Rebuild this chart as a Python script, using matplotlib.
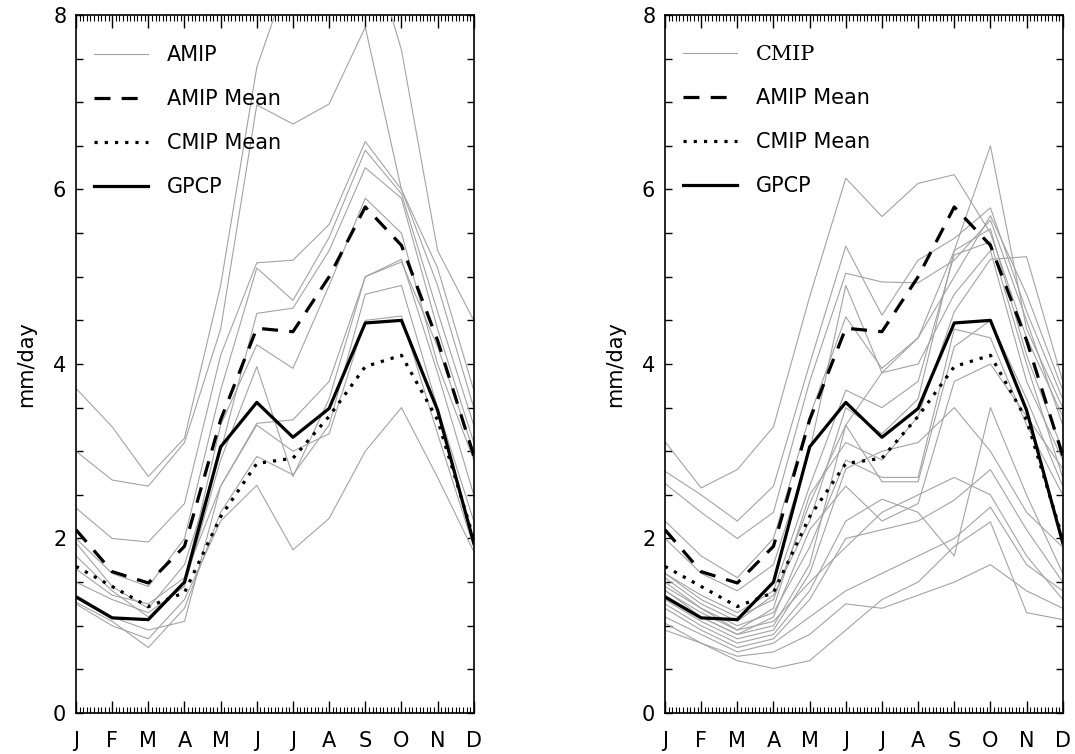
import matplotlib
matplotlib.use("Agg")
import matplotlib.pyplot as plt
from matplotlib.lines import Line2D
from matplotlib.ticker import MultipleLocator

months = ['J', 'F', 'M', 'A', 'M', 'J', 'J', 'A', 'S', 'O', 'N', 'D']

# observed and ensemble means (mm/day)
gpcp      = [1.33, 1.09, 1.07, 1.50, 3.05, 3.56, 3.16, 3.49, 4.47, 4.50, 3.47, 1.95]
amip_mean = [2.10, 1.62, 1.49, 1.91, 3.36, 4.41, 4.37, 5.00, 5.80, 5.36, 4.27, 2.95]
cmip_mean = [1.68, 1.45, 1.22, 1.38, 2.25, 2.86, 2.92, 3.40, 3.97, 4.10, 3.36, 2.00]

# individual AMIP models
amip_models = [
    [3.72, 3.28, 2.71, 3.15, 4.90, 7.40, 8.60, 9.00, 9.00, 7.60, 5.30, 4.50],
    [3.00, 2.67, 2.60, 3.10, 4.40, 6.97, 6.75, 6.98, 7.86, 6.00, 5.10, 3.70],
    [2.35, 2.00, 1.96, 2.40, 4.10, 5.16, 5.19, 5.60, 6.55, 6.00, 4.90, 3.50],
    [2.00, 1.60, 1.45, 2.00, 3.70, 5.10, 4.73, 5.45, 6.45, 5.95, 4.60, 3.30],
    [1.95, 1.45, 1.20, 1.70, 3.00, 4.58, 4.64, 5.30, 6.25, 5.90, 4.40, 3.10],
    [1.80, 1.40, 1.10, 1.50, 3.30, 4.22, 3.95, 4.90, 5.90, 5.50, 4.00, 2.90],
    [1.50, 1.30, 1.15, 1.45, 2.90, 3.97, 2.71, 3.60, 5.00, 5.20, 3.90, 2.50],
    [1.65, 1.35, 1.25, 1.55, 2.60, 3.32, 3.36, 3.80, 5.00, 5.17, 4.20, 3.00],
    [1.27, 1.05, 0.75, 1.20, 2.30, 2.94, 2.73, 3.30, 4.80, 4.90, 3.50, 2.20],
    [1.25, 1.00, 0.85, 1.30, 2.20, 2.61, 1.87, 2.23, 3.00, 3.50, 2.70, 1.85],
    [1.35, 1.10, 0.95, 1.05, 2.60, 3.30, 3.00, 3.20, 4.50, 4.55, 3.20, 1.90],
]

# individual CMIP models
cmip_models = [
    [3.11, 2.58, 2.79, 3.28, 4.77, 6.13, 5.69, 6.07, 6.17, 5.50, 4.30, 3.40],
    [2.77, 2.50, 2.20, 2.60, 4.00, 5.35, 4.56, 5.19, 5.44, 5.79, 4.60, 3.60],
    [2.63, 2.30, 2.00, 2.30, 3.80, 5.04, 4.94, 4.93, 5.19, 5.65, 4.50, 3.30],
    [2.20, 1.80, 1.55, 2.00, 3.40, 4.54, 3.95, 4.30, 5.30, 6.50, 4.40, 3.50],
    [1.60, 1.30, 1.10, 1.30, 2.40, 3.30, 3.90, 4.30, 5.00, 5.70, 4.80, 3.70],
    [1.55, 1.25, 1.05, 1.35, 2.20, 3.50, 3.20, 3.60, 5.30, 5.55, 4.10, 3.00],
    [1.50, 1.20, 0.95, 1.20, 2.50, 3.10, 2.90, 3.40, 4.60, 5.20, 5.23, 3.80],
    [1.45, 1.20, 1.00, 1.15, 1.90, 2.90, 2.70, 2.70, 4.40, 4.30, 3.30, 2.50],
    [1.41, 1.10, 0.90, 1.10, 2.10, 2.60, 2.20, 2.40, 3.80, 4.00, 3.40, 2.80],
    [1.30, 1.05, 0.85, 0.95, 1.60, 2.80, 3.00, 3.10, 3.50, 3.00, 2.30, 1.90],
    [1.20, 0.95, 0.75, 0.85, 1.30, 2.00, 2.10, 2.20, 2.44, 2.79, 2.10, 1.50],
    [1.10, 0.90, 0.70, 0.80, 1.10, 1.40, 1.60, 1.80, 2.00, 2.36, 1.70, 1.40],
    [1.03, 0.80, 0.60, 0.51, 0.60, 0.95, 1.30, 1.50, 1.91, 2.19, 1.15, 1.07],
    [0.95, 0.80, 0.65, 0.70, 0.90, 1.25, 1.20, 1.35, 1.50, 1.70, 1.40, 1.20],
    [1.25, 1.00, 0.80, 0.90, 1.40, 2.20, 2.45, 2.30, 1.80, 3.50, 2.50, 1.60],
    [1.35, 1.10, 0.90, 1.00, 1.70, 3.30, 2.65, 2.65, 4.20, 4.50, 3.60, 2.60],
    [1.60, 1.35, 1.15, 1.40, 2.60, 3.70, 3.50, 3.80, 5.25, 5.40, 4.00, 2.70],
    [2.00, 1.60, 1.40, 1.70, 3.00, 4.90, 3.90, 4.00, 4.80, 5.30, 3.80, 2.90],
    [1.40, 1.15, 0.95, 1.05, 1.50, 1.90, 2.30, 2.50, 2.70, 2.50, 1.80, 1.30],
]

x = list(range(len(months)))
gray = '#a3a3a3'
fs = 15

fig = plt.figure(figsize=(10.75, 7.54), dpi=100)
ax1 = fig.add_axes([0.0707, 0.0544, 0.370, 0.9257])
ax2 = fig.add_axes([0.6186, 0.0544, 0.370, 0.9257])

panels = [(ax1, amip_models, 'AMIP'), (ax2, cmip_models, 'CMIP')]
for ax, models, name in panels:
    for m in models:
        ax.plot(x, m, color=gray, lw=0.8)
    ax.plot(x, amip_mean, color='black', lw=2.3, dashes=(5, 3.5))
    ax.plot(x, cmip_mean, color='black', lw=2.3, dashes=(1, 2.2))
    ax.plot(x, gpcp, color='black', lw=2.3)

    ax.set_xlim(0, 11)
    ax.set_ylim(0, 8)
    ax.set_xticks(x)
    ax.set_xticklabels(months)
    ax.xaxis.set_minor_locator(MultipleLocator(0.1))
    ax.set_yticks([0, 2, 4, 6, 8])
    ax.yaxis.set_minor_locator(MultipleLocator(0.5))
    ax.tick_params(axis='x', which='major', direction='in', length=9, width=1,
                   top=True, labelsize=fs, pad=13)
    ax.tick_params(axis='x', which='minor', direction='in', length=4, width=0.8, top=True)
    ax.tick_params(axis='y', which='both', direction='in', length=5, width=1,
                   right=True, labelsize=fs, pad=7)
    for s in ax.spines.values():
        s.set_linewidth(1.2)
    ax.set_ylabel('mm/day', fontsize=fs)
    ax.yaxis.set_label_coords(-0.10, 0.5)

    handles = [Line2D([], [], color=gray, lw=0.8),
               Line2D([], [], color='black', lw=2.3, dashes=(5, 3.5)),
               Line2D([], [], color='black', lw=2.3, dashes=(1, 2.2)),
               Line2D([], [], color='black', lw=2.3)]
    labels = [name, 'AMIP Mean', 'CMIP Mean', 'GPCP']
    leg = ax.legend(handles, labels, loc='upper left', bbox_to_anchor=(0.045, 0.957),
                    frameon=False, fontsize=fs, handlelength=2.6, handletextpad=0.9,
                    labelspacing=1.15, borderaxespad=0, borderpad=0)
    if name == 'CMIP':
        leg.get_texts()[0].set_family('DejaVu Serif')

fig.savefig('out.png', dpi=100)
